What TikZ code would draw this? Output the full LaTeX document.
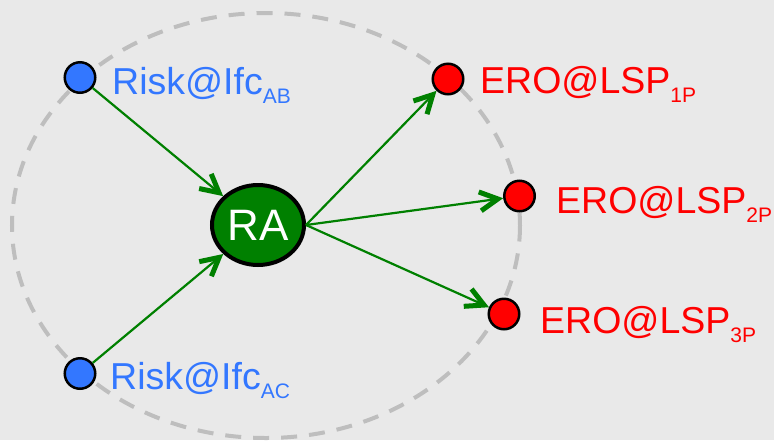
\documentclass[tikz,border=0pt]{standalone}
\usepackage{fontspec}
\setmainfont{Liberation Sans}
\usetikzlibrary{shapes.geometric,arrows.meta}
\definecolor{bgcol}{RGB}{233,233,233}
\definecolor{ringcol}{RGB}{190,190,190}
\definecolor{riskblue}{RGB}{51,119,255}
\definecolor{erored}{RGB}{255,0,0}
\definecolor{flowgreen}{RGB}{0,128,0}
% main text with a lowered subscript
\newcommand{\subtext}[2]{\fontsize{37.5}{42}\selectfont #1\raisebox{-9pt}{\fontsize{21}{24}\selectfont #2}}
\begin{document}
\begin{tikzpicture}[x=1pt,y=-1pt,
  endpoint/.style={circle,draw=black,line width=2.5pt,minimum size=30.5pt,inner sep=0pt},
  risk/.style={endpoint,fill=riskblue},
  ero/.style={endpoint,fill=erored},
  agent/.style={ellipse,draw=black,fill=flowgreen,line width=4pt,minimum width=92pt,minimum height=80pt,inner sep=0pt,text=white,font=\fontsize{44}{48}\selectfont},
  flow/.style={draw=flowgreen,line width=2.2pt,-{Straight Barb[length=18pt,width=19pt,line width=5pt]}},
  risktext/.style={anchor=base west,inner sep=0pt,text=riskblue},
  erotext/.style={anchor=base west,inner sep=0pt,text=erored},
  ring/.style={draw=ringcol,line width=4pt,dash pattern=on 16pt off 12pt}
]
\fill[bgcol] (0,0) rectangle (774,440);
\useasboundingbox (0,0) rectangle (774,440);

% domain boundary
\draw[ring] (266,225.5) ellipse [x radius=254, y radius=212.5];

% nodes
\node[agent] (ra) at (258,225) {RA};
\node[risk] (ab) at (80,77.5) {};
\node[risk] (ac) at (80,373.5) {};
\node[ero] (e1) at (448,79) {};
\node[ero] (e2) at (519.5,196) {};
\node[ero] (e3) at (504,314) {};

% labels
\node[risktext] (tab) at (112,94) {\subtext{Risk@Ifc}{AB}};
\node[risktext] (tac) at (110,389) {\subtext{Risk@Ifc}{AC}};
\node[erotext] (t1) at (480,93) {\subtext{ERO@LSP}{1P}};
\node[erotext] (t2) at (556,213) {\subtext{ERO@LSP}{2P}};
\node[erotext] (t3) at (540,333) {\subtext{ERO@LSP}{3P}};

% connectors
\draw[flow] (ab) -- (ra);
\draw[flow] (ac) -- (ra);
\draw[flow] (ra.east) -- (e1);
\draw[flow] (ra.east) -- (e2);
\draw[flow] (ra.east) -- (e3);
\end{tikzpicture}
\end{document}
